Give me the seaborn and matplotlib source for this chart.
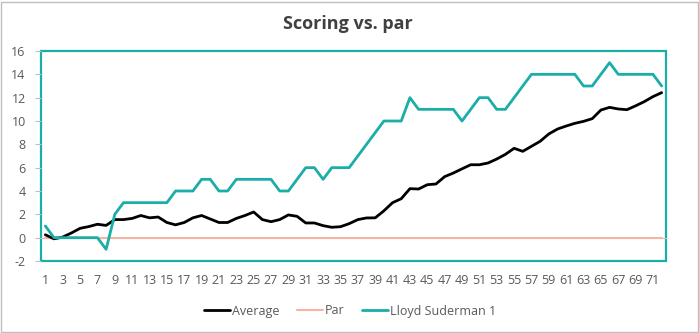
import numpy as np
import pandas as pd
import matplotlib
matplotlib.use("Agg")
import matplotlib.pyplot as plt
import seaborn as sns
from matplotlib.patches import Rectangle
from matplotlib.ticker import FixedLocator

# Round numbers and cumulative scores relative to par
rounds = list(range(1, 73))
average = [0.25, -0.1, 0.05, 0.4, 0.8, 0.95, 1.15, 1.05, 1.55, 1.55,
           1.65, 1.9, 1.7, 1.77, 1.3, 1.1, 1.3, 1.7, 1.9, 1.6,
           1.3, 1.3, 1.65, 1.9, 2.2, 1.55, 1.37, 1.55, 1.95, 1.83,
           1.26, 1.26, 1.03, 0.89, 0.94, 1.2, 1.55, 1.69, 1.7, 2.3,
           3.0, 3.34, 4.2, 4.17, 4.54, 4.6, 5.23, 5.54, 5.9, 6.25,
           6.25, 6.4, 6.74, 7.14, 7.66, 7.4, 7.83, 8.26, 8.89, 9.31,
           9.57, 9.8, 9.97, 10.2, 10.94, 11.17, 11.03, 10.97, 11.3, 11.66,
           12.09, 12.43]
par = [0] * 72
lloyd = [1, 0, 0, 0, 0, 0, 0, -1, 2, 3,
         3, 3, 3, 3, 3, 4, 4, 4, 5, 5,
         4, 4, 5, 5, 5, 5, 5, 4, 4, 5,
         6, 6, 5, 6, 6, 6, 7, 8, 9, 10,
         10, 10, 12, 11, 11, 11, 11, 11, 10, 11,
         12, 12, 11, 11, 12, 13, 14, 14, 14, 14,
         14, 14, 13, 13, 14, 15, 14, 14, 14, 14,
         14, 13]
series_names = ["Average", "Par", "Lloyd Suderman 1"]
y_ticks = list(range(-2, 17, 2))
x_tick_labels = list(range(1, 72, 2))

df = pd.DataFrame({
    "round": rounds * 3,
    "score": average + par + lloyd,
    "series": np.repeat(series_names, len(rounds)),
})

sns.set_theme(style="white")
plt.rcParams["font.family"] = ["Open Sans", "DejaVu Sans"]

TEAL = "#1BADA8"
SALMON = "#F5B5A2"
TEXT = "#595959"
GRID_GRAY = "#BFBFBF"

palette = {"Average": "#000000", "Par": SALMON, "Lloyd Suderman 1": TEAL}
widths = {"Average": 2.0, "Par": 1.5, "Lloyd Suderman 1": 2.0}
layers = {"Average": 4, "Par": 3, "Lloyd Suderman 1": 5}

fig = plt.figure(figsize=(6.99, 3.33), dpi=100)
ax = fig.add_axes([41 / 699, 1 - 261 / 333, 625 / 699, 210 / 333])

for name in ["Par", "Average", "Lloyd Suderman 1"]:
    sns.lineplot(data=df[df["series"] == name], x="round", y="score",
                 color=palette[name], linewidth=widths[name], ax=ax,
                 label=name, zorder=layers[name])

ax.set_xlim(0.5, 72.5)
ax.set_ylim(-2, 16)
ax.set_xlabel("")
ax.set_ylabel("")

# plot-area frame
ax.patch.set_edgecolor(TEAL)
ax.patch.set_linewidth(1.6)
for s in ["left", "right", "top"]:
    ax.spines[s].set_visible(False)

# category axis crossing at zero, with tick marks between categories
ax.spines["bottom"].set_position(("data", 0))
ax.spines["bottom"].set_color(GRID_GRAY)
ax.spines["bottom"].set_linewidth(0.8)
ax.spines["bottom"].set_zorder(1)
ax.xaxis.set_major_locator(FixedLocator(np.arange(0.5, 73, 1)))
ax.tick_params(axis="x", which="major", direction="out", length=4,
               width=0.8, color=GRID_GRAY, labelbottom=False)

# category labels along the bottom edge
sec = ax.secondary_xaxis("bottom")
sec.xaxis.set_major_locator(FixedLocator(x_tick_labels))
sec.set_xticklabels([str(v) for v in x_tick_labels])
sec.spines["bottom"].set_visible(False)
sec.tick_params(axis="x", length=0, pad=9, labelsize=9, labelcolor=TEXT)

ax.set_yticks(y_ticks)
ax.set_yticklabels([str(v) for v in y_ticks])
ax.tick_params(axis="y", direction="out", length=4, width=0.8,
               color=GRID_GRAY, pad=7, labelsize=9, labelcolor=TEXT, left=True)

fig.text(0.498, 1 - 24 / 333, "Scoring vs. par", ha="center", va="center",
         fontsize=13, fontweight="bold", color="#404040")

handles, labels = ax.get_legend_handles_labels()
order = [labels.index(n) for n in series_names]
ax.legend([handles[i] for i in order], [labels[i] for i in order],
          loc="center", bbox_to_anchor=(350 / 699, 1 - 311 / 333),
          bbox_transform=fig.transFigure, ncol=3, frameon=False,
          fontsize=9, handlelength=2.1, handletextpad=0.15,
          columnspacing=1.4, labelcolor=TEXT)

fig.patches.append(Rectangle((0.5 / 699, 1.5 / 333), 697 / 699, 330 / 333,
                             transform=fig.transFigure, fill=False,
                             edgecolor="#BFBFBF", linewidth=1.0))

fig.savefig("out.png", dpi=100)
